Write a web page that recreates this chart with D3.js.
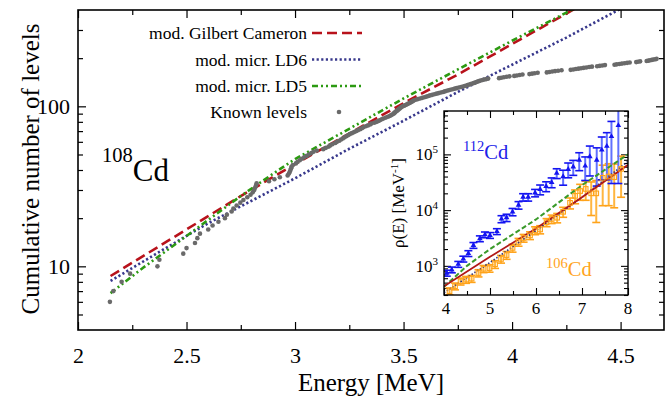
<!DOCTYPE html>
<html><head><meta charset="utf-8">
<script src="https://cdn.jsdelivr.net/npm/d3@7"></script>
<style>
body{margin:0;background:#fff}
svg{display:block}
text{font-family:"Liberation Serif","Times New Roman",serif;fill:#000}
</style>
</head><body><svg id="c" width="670" height="401"></svg>
<script>
// ---------- DATA ----------
// Known levels of 108Cd (energies in MeV); cumulative count starts at 6 in view
const levelEnergies = [2.147,2.163,2.201,2.240,2.366,2.375,2.485,2.500,2.539,2.550,2.562,2.600,2.620,2.647,2.677,2.686,2.708,2.716,2.731,2.748,
2.762,2.780,2.795,2.805,2.812,2.816,2.820,2.823,2.880,2.905,2.930,2.966,2.972,2.976,2.979,2.982,2.985,2.990,3.004,3.012,
3.022,3.031,3.042,3.054,3.064,3.075,3.085,3.100,3.130,3.142,3.155,3.162,3.172,3.185,3.193,3.204,3.212,3.220,3.228,3.236,
3.244,3.252,3.262,3.272,3.282,3.290,3.300,3.308,3.315,3.326,3.336,3.346,3.352,3.365,3.376,3.384,3.392,3.400,3.407,3.418,
3.428,3.436,3.442,3.448,3.454,3.458,3.462,3.466,3.470,3.474,3.478,3.482,3.486,3.490,3.496,3.503,3.510,3.516,3.522,3.528,
3.533,3.538,3.543,3.548,3.556,3.566,3.576,3.586,3.596,3.606,3.614,3.622,3.632,3.642,3.652,3.662,3.672,3.682,3.690,3.699,
3.708,3.716,3.726,3.736,3.745,3.755,3.765,3.774,3.782,3.790,3.796,3.803,3.810,3.817,3.824,3.830,3.836,3.842,3.848,3.855,
3.864,3.872,3.881,3.890,3.940,3.950,3.962,3.975,3.988,4.010,4.022,4.035,4.048,4.080,4.092,4.104,4.118,4.160,4.172,4.185,
4.198,4.212,4.228,4.270,4.282,4.294,4.306,4.318,4.330,4.342,4.355,4.368,4.392,4.404,4.416,4.428,4.472,4.482,4.494,4.506,
4.518,4.530,4.542,4.572,4.580,4.590,4.620,4.628,4.636,4.644,4.652,4.660,4.666];
const firstLevelCount = 6;

// Model cumulative curves (main panel)
const gcE  = [2.15,2.5,2.75,3.0,3.25,3.5,3.75,4.0,4.25,4.5];
const gcN  = [8.7,17.0,27.5,43.6,67.6,104.7,158,245,380,589];
const ld6E = [2.15,2.4,2.6,2.8,3.0,3.25,3.5,3.75,4.0,4.25,4.5,4.7];
const ld6N = [8.1,12.9,18.6,25.7,35.5,54.3,81.3,123,182,269,407,562];
const ld5E = [2.15,2.3,2.45,2.6,2.75,2.9,3.0,3.25,3.5,3.75,4.0,4.25,4.5];
const ld5N = [6.8,9.8,13.8,19.5,27.5,38,46.8,72.4,112,170,257,385,575];

// Axis ticks (main)
const xMajorTicks = [2,2.5,3,3.5,4,4.5];
const xMinorTicks = [2.25,2.75,3.25,3.75,4.25];
const yMajorTicks = [10,100];
const yMinorTicks = [5,6,7,8,9,20,30,40,50,60,70,80,90,200,300];

// Inset: level densities
const cd112E = [4.06,4.17,4.31,4.42,4.53,4.64,4.78,4.89,5.00,5.15,5.25,5.36,5.49,5.62,5.72,5.83,5.98,6.09,6.22,6.34,6.45,6.59,6.70,6.81,6.94,7.07,7.17,7.32,7.43,7.54,7.64,7.79];
const cd112Rho = [743,850,1070,1330,1670,2340,3080,3620,3530,4140,6940,7330,9310,12300,17100,17100,20400,23500,26800,31500,46000,40000,54000,60000,79000,62000,91000,79000,120000,140000,210000,330000];
const cd112Err = [90,100,130,160,200,280,370,430,420,500,1000,1100,1400,1900,2600,2600,3100,4700,5400,6300,9200,12000,16000,18000,28000,28000,50000,52000,85000,105000,180000,300000];
const cd106E = [4.12,4.24,4.36,4.48,4.60,4.75,4.86,4.99,5.11,5.24,5.36,5.49,5.62,5.73,5.87,5.98,6.09,6.23,6.34,6.46,6.59,6.74,6.85,6.96,7.08,7.20,7.31,7.45,7.58,7.70,7.85];
const cd106Rho = [352,431,528,566,590,743,886,910,1070,1330,1560,2100,2680,3160,3520,4320,4500,6040,6930,7310,9330,13500,18000,22000,24000,20000,20000,38000,40000,39000,55000];
const cd106Err = [50,60,75,80,85,110,130,140,170,210,250,340,430,500,560,700,750,1000,1200,1400,1900,3000,5000,7000,9000,12000,14000,26000,28000,28000,38000];
const insetGcE = [4,5,6,7,8];
const insetGcRho = [430,1450,4700,17000,65000];
const insetLd5E = [4,4.5,5,6,7,8];
const insetLd5Rho = [420,1000,2000,6800,28000,100000];
const insetLd6E = [4,5,6,7,8];
const insetLd6Rho = [330,1150,4300,17000,75000];
const insetXTicks = [4,5,6,7,8];
const insetXMinor = [4.5,5.5,6.5,7.5];
const insetYMajor = [1e3,1e4,1e5];

// ---------- DRAW ----------
const svg = d3.select("#c");
const M = {l:78, r:664, t:10, b:330};
const x = d3.scaleLinear().domain([2,4.7]).range([M.l, M.r]);
const y = d3.scaleLog().domain([4,400]).range([M.b, M.t]);

const defs = svg.append("defs");
defs.append("clipPath").attr("id","mainClip").append("rect")
  .attr("x",M.l).attr("y",M.t).attr("width",M.r-M.l).attr("height",M.b-M.t);

const COL = {gc:"#b8121b", ld6:"#38388c", ld5:"#2c9a12", dots:"#6a6a6a"};

function addAxis(gen, transform, ticks, size, labels, pad, fs){
  const a = gen.tickValues(ticks).tickSize(-size).tickPadding(pad)
    .tickFormat(labels ? d3.format("") : () => "");
  const g = svg.append("g").attr("transform", transform).call(a);
  g.select(".domain").remove();
  g.selectAll(".tick line").attr("stroke","#000").attr("stroke-width",1.2);
  g.selectAll("text").style("font-size", fs+"px").attr("fill","#000");
  return g;
}
const mainH = M.b - M.t, mainW = M.r - M.l;
addAxis(d3.axisBottom(x), `translate(0,${M.b})`, xMajorTicks, 8, true, 17, 22);
addAxis(d3.axisBottom(x), `translate(0,${M.b})`, xMinorTicks, 5, false, 0, 10);
addAxis(d3.axisTop(x), `translate(0,${M.t})`, xMajorTicks, 8, false, 0, 10);
addAxis(d3.axisTop(x), `translate(0,${M.t})`, xMinorTicks, 5, false, 0, 10);
addAxis(d3.axisLeft(y), `translate(${M.l},0)`, yMajorTicks, 8, true, 8, 22);
addAxis(d3.axisLeft(y), `translate(${M.l},0)`, yMinorTicks, 5, false, 0, 10);
addAxis(d3.axisRight(y), `translate(${M.r},0)`, yMajorTicks, 8, false, 0, 10);
addAxis(d3.axisRight(y), `translate(${M.r},0)`, yMinorTicks, 5, false, 0, 10);

const plot = svg.append("g").attr("clip-path","url(#mainClip)");
const line = d3.line().x(d=>x(d[0])).y(d=>y(d[1]));
plot.append("path").datum(d3.zip(ld6E, ld6N)).attr("d", line)
  .attr("fill","none").attr("stroke",COL.ld6).attr("stroke-width",2.6).attr("stroke-dasharray","2.2,2.4");
plot.append("path").datum(d3.zip(gcE, gcN)).attr("d", line)
  .attr("fill","none").attr("stroke",COL.gc).attr("stroke-width",2.6).attr("stroke-dasharray","10,5");
plot.append("path").datum(d3.zip(ld5E, ld5N)).attr("d", line)
  .attr("fill","none").attr("stroke",COL.ld5).attr("stroke-width",2.6).attr("stroke-dasharray","6,3,2,3,2,3");

const levels = levelEnergies.map((e,i)=>[e, firstLevelCount + i]);
plot.selectAll("circle.lv").data(levels).join("circle").attr("class","lv")
  .attr("cx",d=>x(d[0])).attr("cy",d=>y(d[1])).attr("r",2.3).attr("fill",COL.dots);

svg.append("rect").attr("x",M.l).attr("y",M.t).attr("width",mainW).attr("height",mainH)
  .attr("fill","none").attr("stroke","#000").attr("stroke-width",1.6);

svg.append("text").attr("x",(M.l+M.r)/2).attr("y",391).attr("text-anchor","middle")
  .style("font-size","25px").text("Energy [MeV]");
svg.append("text").attr("transform","translate(39,169) rotate(-90)").attr("text-anchor","middle")
  .style("font-size","25px").text("Cumulative number of levels");

// 108Cd label
const lab = svg.append("text").attr("x",102).attr("y",181).style("font-size","31px");
lab.append("tspan").style("font-size","20.5px").attr("dy",-19).text("108");
lab.append("tspan").attr("dy",19).text("Cd");

// legend
const legend = [
  {t:"mod. Gilbert Cameron", c:COL.gc, d:"10,5", y:33},
  {t:"mod. micr. LD6", c:COL.ld6, d:"2.2,2.4", y:59.5},
  {t:"mod. micr. LD5", c:COL.ld5, d:"6,3,2,3,2,3", y:86},
  {t:"Known levels", c:null, d:null, y:112}
];
legend.forEach(L=>{
  svg.append("text").attr("x",307).attr("y",L.y+6).attr("text-anchor","end")
    .style("font-size","17.5px").text(L.t);
  if(L.c){
    svg.append("line").attr("x1",312).attr("x2",362).attr("y1",L.y).attr("y2",L.y)
      .attr("stroke",L.c).attr("stroke-width",2.6).attr("stroke-dasharray",L.d);
  } else {
    svg.append("circle").attr("cx",339).attr("cy",L.y).attr("r",2.3).attr("fill",COL.dots);
  }
});

// ---------- INSET ----------
const I = {l:444, r:628, t:111, b:295};
const ix = d3.scaleLinear().domain([4,8]).range([I.l, I.r]);
const iy = d3.scaleLog().domain([300,6e5]).range([I.b, I.t]);
svg.append("rect").attr("x",I.l).attr("y",I.t).attr("width",I.r-I.l).attr("height",I.b-I.t).attr("fill","#fff");
defs.append("clipPath").attr("id","insetClip").append("rect")
  .attr("x",I.l).attr("y",I.t).attr("width",I.r-I.l).attr("height",I.b-I.t);

const iyMinor = [];
[100,1000,10000,100000].forEach(dec=>{ for(let k=2;k<=9;k++){ const v=dec*k; if(v>=300 && v<=6e5) iyMinor.push(v);} });

function addIAxis(gen, transform, ticks, size){
  const g = svg.append("g").attr("transform", transform)
    .call(gen.tickValues(ticks).tickSize(-size).tickFormat(()=>""));
  g.select(".domain").remove();
  g.selectAll(".tick line").attr("stroke","#000").attr("stroke-width",1.1);
  return g;
}
addIAxis(d3.axisBottom(ix), `translate(0,${I.b})`, insetXTicks, 7);
addIAxis(d3.axisBottom(ix), `translate(0,${I.b})`, insetXMinor, 4);
addIAxis(d3.axisTop(ix), `translate(0,${I.t})`, insetXTicks, 7);
addIAxis(d3.axisTop(ix), `translate(0,${I.t})`, insetXMinor, 4);
addIAxis(d3.axisLeft(iy), `translate(${I.l},0)`, insetYMajor, 7);
addIAxis(d3.axisLeft(iy), `translate(${I.l},0)`, iyMinor, 4);
addIAxis(d3.axisRight(iy), `translate(${I.r},0)`, insetYMajor, 7);
addIAxis(d3.axisRight(iy), `translate(${I.r},0)`, iyMinor, 4);

insetXTicks.forEach(v=>{
  svg.append("text").attr("x",ix(v)+(v===4?2:0)).attr("y",I.b+19).attr("text-anchor","middle")
    .style("font-size","17px").text(v);
});
insetYMajor.forEach(v=>{
  const t = svg.append("text").attr("x",I.l-6).attr("y",iy(v)+6).attr("text-anchor","end").style("font-size","17px");
  t.append("tspan").text("10");
  t.append("tspan").attr("dy",-7).style("font-size","11px").text(Math.round(Math.log10(v)));
});
const ylab = svg.append("text").attr("transform",`translate(404,${(I.t+I.b)/2}) rotate(-90)`)
  .attr("text-anchor","middle").style("font-size","17px");
ylab.append("tspan").text("ρ(E) [MeV");
ylab.append("tspan").attr("dy",-6).style("font-size","11px").text("-1");
ylab.append("tspan").attr("dy",6).text("]");

const ip = svg.append("g").attr("clip-path","url(#insetClip)");
const iline = d3.line().x(d=>ix(d[0])).y(d=>iy(d[1]));

const ORG = "#ffa31a", ORG_E = "#ffb640";
const BLU = "#1414f0", BLU_E = "#6070ff";
const orange = d3.zip(cd106E, cd106Rho, cd106Err);
const blue = d3.zip(cd112E, cd112Rho, cd112Err);
function errBars(data, col, capCol){
  const g = ip.append("g");
  data.forEach(([e,v,d])=>{
    const lo = Math.max(v-d, 1), hi = v+d;
    g.append("line").attr("x1",ix(e)).attr("x2",ix(e)).attr("y1",iy(lo)).attr("y2",iy(hi))
      .attr("stroke",col).attr("stroke-width",2);
    [lo,hi].forEach(b=>g.append("line").attr("x1",ix(e)-4).attr("x2",ix(e)+4).attr("y1",iy(b)).attr("y2",iy(b))
      .attr("stroke",capCol).attr("stroke-width",1.6));
  });
}
errBars(orange, ORG_E, ORG);
errBars(blue, BLU_E, BLU);

ip.append("path").datum(d3.zip(insetLd6E, insetLd6Rho)).attr("d", iline)
  .attr("fill","none").attr("stroke","#30307a").attr("stroke-width",1.6).attr("stroke-dasharray","1.5,1.8");
ip.append("path").datum(d3.zip(insetLd5E, insetLd5Rho)).attr("d", iline)
  .attr("fill","none").attr("stroke","#3a9a2a").attr("stroke-width",2).attr("stroke-dasharray","5,2.5");
ip.append("path").datum(d3.zip(insetGcE, insetGcRho)).attr("d", iline)
  .attr("fill","none").attr("stroke","#b01818").attr("stroke-width",1.8);

ip.selectAll("rect.o").data(orange).join("rect").attr("class","o")
  .attr("x",d=>ix(d[0])-2.3).attr("y",d=>iy(d[1])-2.3).attr("width",4.6).attr("height",4.6)
  .attr("fill","none").attr("stroke",ORG).attr("stroke-width",1.1);
const tri = d3.symbol().type(d3.symbolTriangle).size(14);
ip.selectAll("path.b").data(blue).join("path").attr("class","b")
  .attr("transform",d=>`translate(${ix(d[0])},${iy(d[1])})`).attr("d",tri()).attr("fill",BLU);

svg.append("rect").attr("x",I.l).attr("y",I.t).attr("width",I.r-I.l).attr("height",I.b-I.t)
  .attr("fill","none").attr("stroke","#000").attr("stroke-width",1.4);

const l112 = svg.append("text").attr("x",463).attr("y",159).style("font-size","20.5px").style("fill","#2020e8");
l112.append("tspan").style("font-size","14.5px").attr("dy",-8).text("112");
l112.append("tspan").attr("dy",8).text("Cd");
const l106 = svg.append("text").attr("x",546).attr("y",276).style("font-size","20.5px").style("fill","#ffa41c");
l106.append("tspan").style("font-size","14.5px").attr("dy",-8).text("106");
l106.append("tspan").attr("dy",8).text("Cd");
</script>
</body></html>
